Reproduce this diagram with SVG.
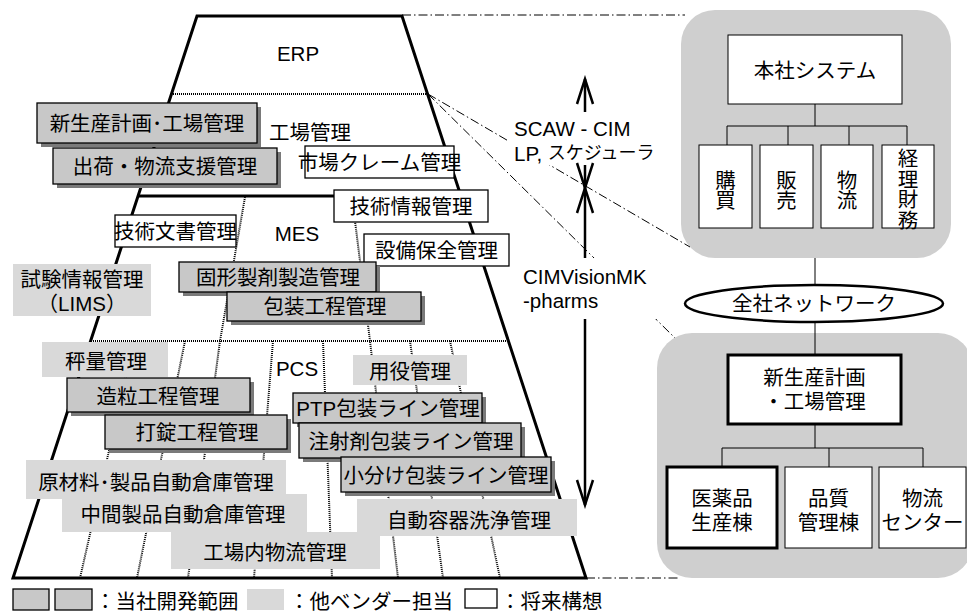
<svg xmlns="http://www.w3.org/2000/svg" width="967" height="612" viewBox="0 0 967 612">
<style>
.t{font-family:"Liberation Sans","Noto Sans CJK JP",sans-serif;font-size:20.5px;fill:#000;text-anchor:middle;dominant-baseline:central}
.s{text-anchor:start}
.v{writing-mode:vertical-rl;font-family:"Noto Sans CJK JP",sans-serif}
.own{fill:#c8c8c8;stroke:#000;stroke-width:1.3}
.sh{fill:#7a7a7a}
.ven{fill:#d9d9d9}
.fut{fill:#fff;stroke:#000;stroke-width:1.3}
.edge{stroke:#000;stroke-width:3;fill:none;stroke-linejoin:miter}
.dot{stroke:#000;stroke-width:2;stroke-dasharray:1 1;fill:none}
.dd{stroke:#000;stroke-width:1;stroke-dasharray:9 3 1.5 3;fill:none}
.panel{fill:#cfcfcf}
.node{fill:#fff;stroke:#000;stroke-width:1}
.thick{fill:#fff;stroke:#000;stroke-width:3}
.conn{stroke:#000;stroke-width:1;fill:none}
.arr{stroke:#000;stroke-width:2.5;fill:none}
</style>
<defs>
<marker id="vh" markerUnits="userSpaceOnUse" viewBox="-30 -12 34 24" markerWidth="34" markerHeight="24" refX="0" refY="0" orient="auto">
<path d="M-25,-8 L0,0 L-25,8" fill="none" stroke="#000" stroke-width="2.5"/>
</marker>
</defs>

<!-- pyramid -->
<g id="pyramid">
<path class="dot" d="M171,94 H428 M91,341 H508"/>
<path class="dot" d="M245,197 L220,341 L188,578 M352,197 L370,341 L398,578 M273,341 L254,578 M185,341 L137,578 M134,341 L80,578 M323,341 L332,578 M410,341 L443,578 M450,341 L500,578"/>
<path class="edge" d="M197,16 L402,16 L586,578 L13,578 Z"/>
<path class="edge" d="M138,196 H461"/>
<text class="t" x="298" y="53">ERP</text>
<text class="t" x="310" y="132">工場管理</text>
<text class="t" x="297" y="233">MES</text>
<text class="t" x="297" y="368">PCS</text>
</g>

<!-- right-side panels (background) -->
<g id="panel-honsha"><rect class="panel" x="681" y="10" width="270" height="248" rx="34"/></g>
<g id="panel-kojo"><rect class="panel" x="657" y="333" width="316" height="245" rx="35"/></g>

<!-- connectors -->
<g id="connectors">
<path class="dd" d="M402,15 H685 M586,578 H678 M428,94 L690,247 M428,94 L675,338"/>
<path class="conn" d="M815,104 V126 M727,126 H907 M727,126 V145 M788,126 V145 M849,126 V145 M907,126 V145 M815,258 V285 M815,322 V355 M815,424 V448 M722,448 H923 M722,448 V467 M829,448 V467 M923,448 V467"/>
</g>

<!-- arrows with labels -->
<g id="scaw-label">
<rect x="508" y="115" width="152" height="50" fill="#fff"/>
<text class="t s" x="514" y="128">SCAW - CIM</text>
<text class="t s" x="514" y="153">LP, <tspan font-size="18">スケジューラ</tspan></text>
</g>
<g id="cim-label">
<rect x="518" y="258" width="140" height="61" fill="#fff"/>
<text class="t s" x="523" y="276">CIMVisionMK</text>
<text class="t s" x="523" y="300">-pharms</text>
</g>
<g id="arrows">
<path class="arr" d="M585,112 V79" marker-end="url(#vh)"/>
<path class="arr" d="M585,165 V188" marker-end="url(#vh)"/>
<path class="arr" d="M585,258 V188" marker-end="url(#vh)"/>
<path class="arr" d="M585,319 V505" marker-end="url(#vh)"/>
</g>

<!-- left boxes -->
<g id="n-shinseisan"><rect class="sh" x="41" y="107" width="220" height="40"/><rect class="own" x="37" y="103" width="220" height="40"/><text class="t" x="147" y="123">新生産計画･工場管理</text></g>
<g id="n-shukka"><rect class="sh" x="57" y="152" width="224" height="36"/><rect class="own" x="53" y="148" width="224" height="36"/><text class="t" x="165" y="166">出荷・物流支援管理</text></g>
<g id="n-shijo"><rect class="fut" x="305" y="146" width="149" height="32"/><text class="t" x="379.5" y="162" font-size="17">市場クレーム管理</text></g>
<g id="n-gijutsujoho"><rect class="fut" x="334" y="190" width="154" height="32"/><text class="t" x="411" y="206">技術情報管理</text></g>
<g id="n-gijutsubunsho"><rect class="fut" x="115" y="215" width="121" height="32"/><text class="t" x="175.5" y="231" font-size="19">技術文書管理</text></g>
<g id="n-setsubi"><rect class="fut" x="364" y="234" width="145" height="32"/><text class="t" x="436.5" y="250">設備保全管理</text></g>
<g id="n-lims"><rect class="ven" x="13" y="264" width="138" height="52"/><text class="t" x="82" y="279">試験情報管理</text><text class="t" x="82" y="303">（LIMS）</text></g>
<g id="n-kokei"><rect class="sh" x="183" y="266" width="197" height="30"/><rect class="own" x="179" y="262" width="197" height="30"/><text class="t" x="278" y="277">固形製剤製造管理</text></g>
<g id="n-hoso"><rect class="sh" x="231" y="296" width="194" height="29"/><rect class="own" x="227" y="292" width="194" height="29"/><text class="t" x="325" y="306.5">包装工程管理</text></g>
<g id="n-hyoryo"><rect class="ven" x="42" y="342" width="126" height="35"/><text class="t" x="106" y="361">秤量管理</text></g>
<g id="n-yoeki"><rect class="ven" x="353" y="355" width="114" height="30"/><text class="t" x="410" y="371">用役管理</text></g>
<g id="n-zoryu"><rect class="sh" x="71" y="382" width="183" height="34"/><rect class="own" x="67" y="378" width="183" height="34"/><text class="t" x="158" y="396">造粒工程管理</text></g>
<g id="n-dajo"><rect class="sh" x="109" y="419" width="182" height="34"/><rect class="own" x="105" y="415" width="182" height="34"/><text class="t" x="197" y="432">打錠工程管理</text></g>
<g id="n-ptp"><rect class="sh" x="297" y="397" width="189" height="30"/><rect class="own" x="293" y="393" width="189" height="30"/><text class="t" x="388" y="408" font-size="19.5">PTP包装ライン管理</text></g>
<g id="n-chusha"><rect class="sh" x="303" y="427" width="222" height="35"/><rect class="own" x="299" y="423" width="222" height="35"/><text class="t" x="411" y="441" font-size="19.5">注射剤包装ライン管理</text></g>
<g id="n-kowake"><rect class="sh" x="345" y="461" width="210" height="35"/><rect class="own" x="341" y="457" width="210" height="35"/><text class="t" x="446" y="475" font-size="19.5">小分け包装ライン管理</text></g>
<g id="n-genzairyo"><rect class="ven" x="26" y="460" width="260" height="39"/><text class="t" x="156" y="482">原材料･製品自動倉庫管理</text></g>
<g id="n-chukan"><rect class="ven" x="62" y="494" width="245" height="38"/><text class="t" x="183" y="514">中間製品自動倉庫管理</text></g>
<g id="n-senjo"><rect class="ven" x="357" y="499" width="220" height="37"/><text class="t" x="469" y="520">自動容器洗浄管理</text></g>
<g id="n-kojonai"><rect class="ven" x="171" y="532" width="209" height="37"/><text class="t" x="275" y="552">工場内物流管理</text></g>

<!-- right side nodes -->
<g id="n-honsha"><rect class="node" x="728" y="35" width="174" height="69"/><text class="t" x="815" y="70">本社システム</text></g>
<g id="n-kobai"><rect class="node" x="699" y="145" width="53" height="83"/><text class="t v" x="725.5" y="190" font-size="19.5">購買</text></g>
<g id="n-hanbai"><rect class="node" x="760" y="145" width="53" height="83"/><text class="t v" x="786.5" y="190" font-size="19.5">販売</text></g>
<g id="n-butsuryu"><rect class="node" x="821" y="145" width="52" height="83"/><text class="t v" x="847" y="190" font-size="19.5">物流</text></g>
<g id="n-keiri"><rect class="node" x="882" y="145" width="52" height="83"/><text class="t v" x="908" y="189" font-size="17.5">経理財務</text></g>
<g id="n-network"><ellipse cx="814" cy="303.5" rx="129" ry="18.5" fill="#fff" stroke="#000" stroke-width="2.5"/><text class="t" x="814" y="303.5" font-size="15">全社ネットワーク</text></g>
<g id="n-shinseisan2"><rect class="thick" x="728" y="355" width="173" height="69"/><text class="t" x="814.5" y="377">新生産計画</text><text class="t" x="814.5" y="401">・工場管理</text></g>
<g id="n-iyakuhin"><rect class="thick" x="667" y="467" width="110" height="81"/><text class="t" x="722" y="498">医薬品</text><text class="t" x="722" y="522">生産棟</text></g>
<g id="n-hinshitsu"><rect class="node" x="785" y="467" width="87" height="81"/><text class="t" x="828.5" y="498">品質</text><text class="t" x="828.5" y="522">管理棟</text></g>
<g id="n-center"><rect class="node" x="879" y="467" width="87" height="81"/><text class="t" x="922.5" y="498">物流</text><text class="t" x="922.5" y="522" font-size="18">センター</text></g>

<!-- legend -->
<g id="legend">
<rect class="own" x="13" y="589" width="36" height="21"/>
<rect class="own" x="55" y="589" width="37" height="21"/>
<text class="t s" x="95" y="601" font-size="18">：当社開発範囲</text>
<rect class="ven" x="247" y="589" width="37" height="21"/>
<text class="t s" x="289" y="601" font-size="19.5">：他ベンダー担当</text>
<rect class="fut" x="465" y="589" width="32" height="19"/>
<text class="t s" x="500" y="601" font-size="17.5">：将来構想</text>
</g>
</svg>
